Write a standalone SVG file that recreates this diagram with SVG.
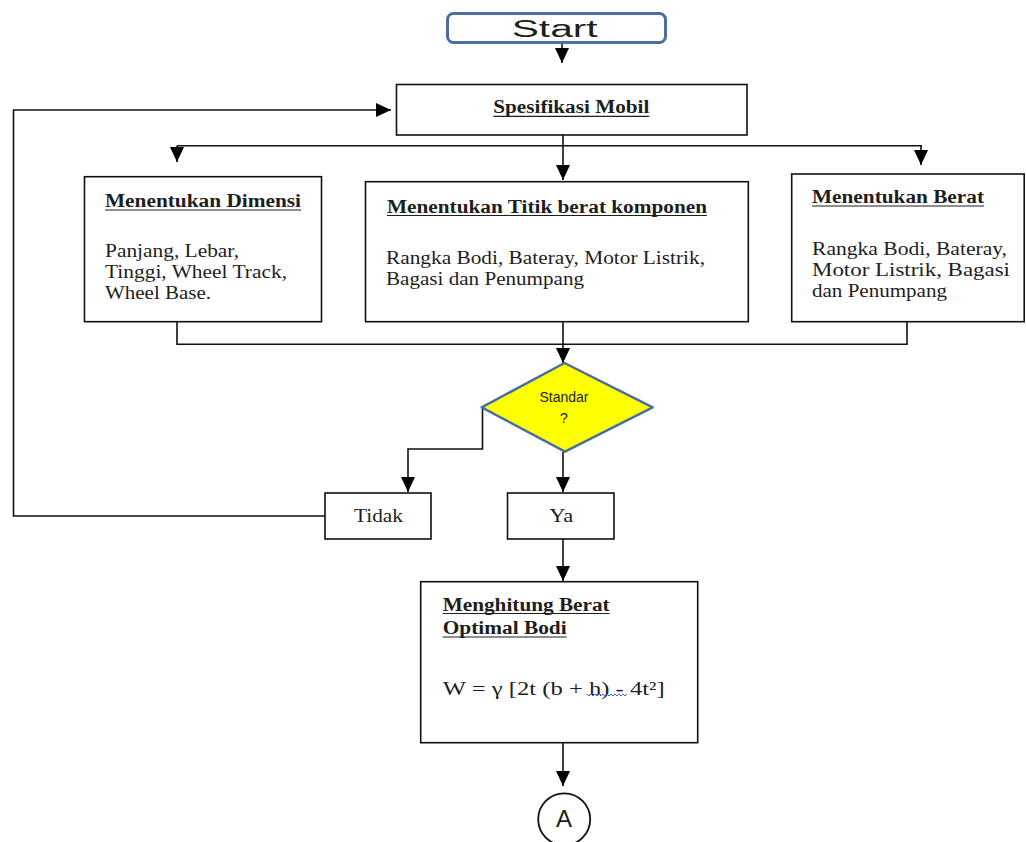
<svg xmlns="http://www.w3.org/2000/svg" width="1026" height="842" viewBox="0 0 1026 842">
  <style>
    .box { fill: #ffffff; stroke: #111111; stroke-width: 1.6; }
    .conn { fill: none; stroke: #111111; stroke-width: 1.6; }
    .ser { font-family: "Liberation Serif", "Times New Roman", serif; font-size: 19px; fill: #1e1e1e; }
    .bold { font-weight: bold; font-size: 18.5px; }
    .ul { stroke: #1e1e1e; stroke-width: 1.2; }
    .sans { font-family: "Liberation Sans", Arial, sans-serif; fill: #1e1e1e; }
  </style>
  <defs>
    <marker id="ah" markerUnits="userSpaceOnUse" markerWidth="15" markerHeight="14" refX="15" refY="7" orient="auto">
      <path d="M0,0 L15,7 L0,14 Z" fill="#000000"/>
    </marker>
  </defs>
  <rect x="0" y="0" width="1026" height="842" fill="#ffffff"/>

  <g id="connectors">
    <path class="conn" d="M562,43 V63" marker-end="url(#ah)"/>
    <path class="conn" d="M563,135 V180" marker-end="url(#ah)"/>
    <path class="conn" d="M177,145.7 H922"/>
    <path class="conn" d="M177,145.7 V162" marker-end="url(#ah)"/>
    <path class="conn" d="M921,145.7 V165" marker-end="url(#ah)"/>
    <path class="conn" d="M177,322 V344.3 H907 V322"/>
    <path class="conn" d="M563,322 V363" marker-end="url(#ah)"/>
    <path class="conn" d="M482.5,407 V449 H408 V492" marker-end="url(#ah)"/>
    <path class="conn" d="M563,452 V492" marker-end="url(#ah)"/>
    <path class="conn" d="M325,516 H13.5 V110 H391" marker-end="url(#ah)"/>
    <path class="conn" d="M563,539 V581" marker-end="url(#ah)"/>
    <path class="conn" d="M563,743 V786" marker-end="url(#ah)"/>
  </g>

  <g id="start">
    <rect x="447.5" y="13.5" width="218" height="29" rx="6" ry="6" fill="#ffffff" stroke="#4a6f9f" stroke-width="3"/>
    <text class="sans" x="511.7" y="36.5" font-size="23" textLength="86" lengthAdjust="spacingAndGlyphs">Start</text>
  </g>

  <g id="spesifikasi">
    <rect class="box" x="396.5" y="84.5" width="350.5" height="50.5"/>
    <text class="ser bold" x="493.3" y="113.3" textLength="156" lengthAdjust="spacingAndGlyphs">Spesifikasi Mobil</text>
    <line class="ul" x1="493.3" y1="116.3" x2="649.3" y2="116.3"/>
  </g>

  <g id="dimensi">
    <rect class="box" x="84.5" y="176.7" width="237" height="145"/>
    <text class="ser bold" x="105" y="207" textLength="196" lengthAdjust="spacingAndGlyphs">Menentukan Dimensi</text>
    <line class="ul" x1="105" y1="210" x2="301" y2="210"/>
    <text class="ser" x="105" y="257" textLength="134" lengthAdjust="spacingAndGlyphs">Panjang, Lebar,</text>
    <text class="ser" x="105" y="278" textLength="182" lengthAdjust="spacingAndGlyphs">Tinggi, Wheel Track,</text>
    <text class="ser" x="105" y="299" textLength="106" lengthAdjust="spacingAndGlyphs">Wheel Base.</text>
  </g>

  <g id="titik-berat">
    <rect class="box" x="365.5" y="181.7" width="382.8" height="140"/>
    <text class="ser bold" x="387" y="212.5" textLength="320" lengthAdjust="spacingAndGlyphs">Menentukan Titik berat komponen</text>
    <line class="ul" x1="387" y1="215.5" x2="707" y2="215.5"/>
    <text class="ser" x="386" y="264" textLength="319" lengthAdjust="spacingAndGlyphs">Rangka Bodi, Bateray, Motor Listrik,</text>
    <text class="ser" x="386" y="285" textLength="198" lengthAdjust="spacingAndGlyphs">Bagasi dan Penumpang</text>
  </g>

  <g id="berat">
    <rect class="box" x="791.7" y="174" width="232.5" height="147.7"/>
    <text class="ser bold" x="812" y="203" textLength="172" lengthAdjust="spacingAndGlyphs">Menentukan Berat</text>
    <line class="ul" x1="812" y1="206" x2="984" y2="206"/>
    <text class="ser" x="812" y="255" textLength="195" lengthAdjust="spacingAndGlyphs">Rangka Bodi, Bateray,</text>
    <text class="ser" x="812" y="276" textLength="198" lengthAdjust="spacingAndGlyphs">Motor Listrik, Bagasi</text>
    <text class="ser" x="812" y="297" textLength="135" lengthAdjust="spacingAndGlyphs">dan Penumpang</text>
  </g>

  <g id="standar">
    <polygon points="564.5,363 652.7,407.3 565,451.7 481.7,407.3" fill="#ffff00" stroke="#4a6f9f" stroke-width="2.5" stroke-linejoin="round"/>
    <text class="sans" x="564" y="401.7" font-size="14" text-anchor="middle">Standar</text>
    <text class="sans" x="564" y="423.3" font-size="14" text-anchor="middle">?</text>
  </g>

  <g id="tidak">
    <rect class="box" x="325" y="493" width="106" height="46"/>
    <text class="ser" x="354" y="521.7" textLength="49" lengthAdjust="spacingAndGlyphs">Tidak</text>
  </g>

  <g id="ya">
    <rect class="box" x="507.5" y="493" width="106.5" height="46"/>
    <text class="ser" x="549.3" y="521.7" textLength="24" lengthAdjust="spacingAndGlyphs">Ya</text>
  </g>

  <g id="menghitung">
    <rect class="box" x="420.7" y="581.7" width="277" height="161"/>
    <text class="ser bold" x="442.7" y="610.7" textLength="167" lengthAdjust="spacingAndGlyphs">Menghitung Berat</text>
    <line class="ul" x1="442.7" y1="613.5" x2="609.7" y2="613.5"/>
    <text class="ser bold" x="442.7" y="634" textLength="124" lengthAdjust="spacingAndGlyphs">Optimal Bodi</text>
    <line class="ul" x1="442.7" y1="637" x2="566.7" y2="637"/>
    <text class="ser" x="442.7" y="695" font-size="23" textLength="222" lengthAdjust="spacingAndGlyphs">W = γ [2t (b + h)  - 4t²]</text>
    <path d="M587,694 l2,2 l2,-2 l2,2 l2,-2 l2,2 l2,-2 l2,2 l2,-2 l2,2 l2,-2 l2,2 l2,-2 l2,2 l2,-2 l2,2 l2,-2 l2,2 l2,-2 l2,2 l2,-2" fill="none" stroke="#3f63d6" stroke-width="1"/>
  </g>

  <g id="connector-a">
    <circle cx="564.2" cy="819.3" r="26" fill="#ffffff" stroke="#111111" stroke-width="1.8"/>
    <text class="sans" x="564" y="827.3" font-size="24" text-anchor="middle">A</text>
  </g>
</svg>
